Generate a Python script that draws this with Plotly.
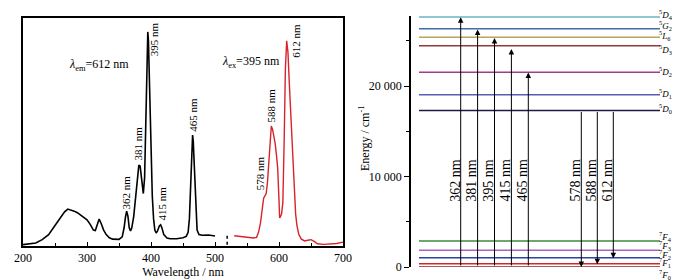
import plotly.graph_objects as go

# ---------------- data ----------------
# Excitation spectrum (lambda_em = 612 nm), black
exc_wl = [200, 210, 220, 230, 240, 250, 260, 265, 270, 275, 280, 285, 290, 295, 300, 305, 310, 313,
          316, 319, 322, 326, 330, 335, 340, 345, 350, 355, 358, 360, 362, 364, 366, 368, 370, 373,
          376, 379, 381, 383, 385, 387, 388, 390, 392, 394, 395, 396, 398, 400, 402, 404, 406, 408,
          410, 413, 415, 417, 420, 425, 430, 440, 450, 455, 458, 460, 462, 464, 465, 466, 468, 470,
          472, 475, 480, 490, 500]
exc_int = [0.6, 0.8, 1.3, 2.8, 5, 9, 13, 15, 16.2, 15.8, 15.3, 14.6, 13.6, 12.6, 11.5, 9.5, 7, 6.8,
           9.5, 11.8, 10, 7, 5, 3.6, 3, 2.8, 2.9, 4, 8, 12.5, 15.3, 13, 8, 6.6, 8, 13,
           22, 31, 35.5, 35, 31, 25, 23, 30, 55, 85, 93.9, 90, 65, 40, 22, 12, 7, 5.7,
           6.5, 8.8, 9.3, 8, 5, 3.5, 3.2, 3.2, 3.6, 4.2, 6, 12, 28, 45, 48.7, 46, 30, 14,
           7, 5, 4.7, 4.8, 4.4]

# Emission spectrum (lambda_ex = 395 nm), red
emi_wl = [530, 540, 550, 560, 565, 568, 571, 574, 576, 578, 580, 582, 584, 586, 588, 590, 592, 594,
          596, 598, 600, 601, 602, 604, 606, 608, 610, 612, 614, 616, 618, 620, 622, 624, 626, 628,
          631, 635, 640, 645, 650, 655, 660, 670, 680, 690, 700]
emi_int = [4.5, 4.2, 4, 3.5, 3.8, 6, 10, 17, 21, 22, 23, 28, 38, 48, 52.6, 51, 48, 45,
           40, 34, 20, 12.3, 12.8, 14, 19, 45, 78, 90, 85, 72, 60, 45, 32, 22, 14, 9,
           5, 3, 2.2, 2.5, 2.8, 2, 1, 0.7, 0.8, 1.1, 1.7]

# spectrum peak labels: (text, wavelength, intensity)
peak_labels = ["395 nm", "465 nm", "381 nm", "362 nm", "415 nm", "578 nm", "588 nm", "612 nm"]
peak_label_wl = [406, 465.5, 379.7, 361, 417, 570, 587.5, 626.6]
peak_label_int = [90.6, 57.5, 45, 23.5, 18.6, 31.8, 61.6, 90]

x_tick_vals = [200, 300, 400, 500, 600, 700]

# Eu3+ energy levels
level_names = ["<sup>5</sup><i>D</i><sub>4</sub>", "<sup>5</sup><i>G</i><sub>2</sub>",
               "<sup>5</sup><i>L</i><sub>6</sub>", "<sup>5</sup><i>D</i><sub>3</sub>",
               "<sup>5</sup><i>D</i><sub>2</sub>", "<sup>5</sup><i>D</i><sub>1</sub>",
               "<sup>5</sup><i>D</i><sub>0</sub>", "<sup>7</sup><i>F</i><sub>4</sub>",
               "<sup>7</sup><i>F</i><sub>3</sub>", "<sup>7</sup><i>F</i><sub>2</sub>",
               "<sup>7</sup><i>F</i><sub>1</sub>", "<sup>7</sup><i>F</i><sub>0</sub>"]
level_energy = [27650, 26330, 25400, 24450, 21530, 19030, 17300, 2870, 1840, 1030, 360, 0]
level_colors = ["#6fb3c4", "#3f6fa8", "#b8a55c", "#8e3b3b", "#a23a8e", "#5b5db5",
                "#1c1c45", "#3d8a3d", "#a565c4", "#2745a0", "#d8232a", "#7a2a2a"]
level_label_shift = [2, 3, 2, -4, 1, 1, 2, 5, 5, 3, 1, -7]

exc_lines_nm = [362, 381, 395, 415, 465]
emi_lines_nm = [578, 588, 612]

energy_tick_vals = [0, 10000, 20000]
energy_tick_text = ["0", "10 000", "20 000"]

FONT = "Liberation Serif"

fig = go.Figure()

fig.add_trace(go.Scatter(x=exc_wl, y=exc_int, mode="lines",
                         line=dict(color="black", width=1.6), xaxis="x", yaxis="y",
                         showlegend=False, hoverinfo="skip"))
fig.add_trace(go.Scatter(x=emi_wl, y=emi_int, mode="lines",
                         line=dict(color="#d8232a", width=1.4), xaxis="x", yaxis="y",
                         showlegend=False, hoverinfo="skip"))

annotations = []
for t, xw, yi in zip(peak_labels, peak_label_wl, peak_label_int):
    annotations.append(dict(x=xw, y=yi, xref="x", yref="y", text=t, showarrow=False,
                            textangle=-90, font=dict(family=FONT, size=11, color="black")))
annotations.append(dict(x=318.75, y=79.4, xref="x", yref="y",
                        text="<i>λ</i><sub>em</sub>=612 nm", showarrow=False,
                        font=dict(family=FONT, size=12, color="black")))
annotations.append(dict(x=556, y=80.7, xref="x", yref="y",
                        text="<i>λ</i><sub>ex</sub>=395 nm", showarrow=False,
                        font=dict(family=FONT, size=12, color="black")))

shapes = []
# axis break mark
shapes.append(dict(type="line", xref="x", yref="y", x0=519, x1=519, y0=0.6, y1=4.6,
                   line=dict(color="black", width=1.5, dash="dot")))

# ---------------- energy level diagram ----------------
LX0, LX1 = 8, 249
for name, e, c, sh in zip(level_names, level_energy, level_colors, level_label_shift):
    shapes.append(dict(type="line", xref="x2", yref="y2", x0=LX0, x1=LX1, y0=e, y1=e,
                       line=dict(color=c, width=1.5)))
    annotations.append(dict(x=LX1 - 3, y=e, xref="x2", yref="y2", text=name, showarrow=False,
                            xanchor="left", yshift=sh,
                            font=dict(family=FONT, size=9, color="black")))

EX0, EXD = 49.7, 16.9
for i, nm in enumerate(exc_lines_nm):
    xp = EX0 + i * EXD
    annotations.append(dict(x=xp, y=1e7 / nm, ax=xp, ay=0, xref="x2", yref="y2",
                            axref="x2", ayref="y2", text="", showarrow=True,
                            arrowhead=2, arrowsize=1.1, arrowwidth=1, arrowcolor="black"))
    annotations.append(dict(x=xp, y=9600, xref="x2", yref="y2", text=f"{nm} nm",
                            showarrow=False, textangle=-90, xshift=-6,
                            font=dict(family=FONT, size=14, color="black")))

E0 = level_energy[6]
MX0, MXD = 170.3, 16
for i, nm in enumerate(emi_lines_nm):
    xp = MX0 + i * MXD
    annotations.append(dict(x=xp, y=E0 - 1e7 / nm, ax=xp, ay=E0, xref="x2", yref="y2",
                            axref="x2", ayref="y2", text="", showarrow=True,
                            arrowhead=2, arrowsize=1.1, arrowwidth=1, arrowcolor="black"))
    annotations.append(dict(x=xp, y=9600, xref="x2", yref="y2", text=f"{nm} nm",
                            showarrow=False, textangle=-90, xshift=-6,
                            font=dict(family=FONT, size=14, color="black")))

annotations.append(dict(x=356 / 696, y=(280 - 131) / 280, xref="paper", yref="paper",
                        text="Energy / cm<sup>-1</sup>", showarrow=False, textangle=-90,
                        font=dict(family=FONT, size=12, color="black")))

W, H = 696, 280
fig.update_layout(
    width=W, height=H, margin=dict(l=0, r=0, t=0, b=0, autoexpand=False),
    paper_bgcolor="white", plot_bgcolor="white",
    font=dict(family=FONT, size=12, color="black"),
    xaxis=dict(domain=[15 / W, 335 / W], range=[200, 700], showline=True, mirror=True,
               linecolor="black", linewidth=1.5, ticks="inside", ticklen=4, tickwidth=1,
               tickcolor="black", tickvals=x_tick_vals, showgrid=False, zeroline=False,
               automargin=False,
               minor=dict(dtick=50, tick0=200, ticks="inside", ticklen=3, tickcolor="black",
                          showgrid=False),
               title=dict(text="Wavelength / nm", standoff=2,
                          font=dict(family=FONT, size=12)),
               tickfont=dict(family=FONT, size=12), anchor="y"),
    yaxis=dict(domain=[(H - 238) / H, (H - 10) / H], range=[0, 100], showline=True,
               mirror=True, linecolor="black", linewidth=1.5, ticks="", showticklabels=False,
               showgrid=False, zeroline=False, anchor="x", automargin=False),
    xaxis2=dict(domain=[403 / W, 1], range=[0, 293], visible=False, anchor="y2",
                automargin=False),
    yaxis2=dict(domain=[(H - 259) / H, (H - 8) / H], range=[0, 27750], showline=True,
                linecolor="black", linewidth=1.5, ticks="outside", ticklen=5, tickwidth=1,
                tickcolor="black", tickvals=energy_tick_vals, ticktext=energy_tick_text,
                showgrid=False, zeroline=False, anchor="x2", automargin=False,
                minor=dict(tickvals=[5000, 15000, 25000], ticks="outside", ticklen=3,
                           tickcolor="black", showgrid=False),
                tickfont=dict(family=FONT, size=12)),
    shapes=shapes, annotations=annotations,
)

fig.write_html("out.html")
